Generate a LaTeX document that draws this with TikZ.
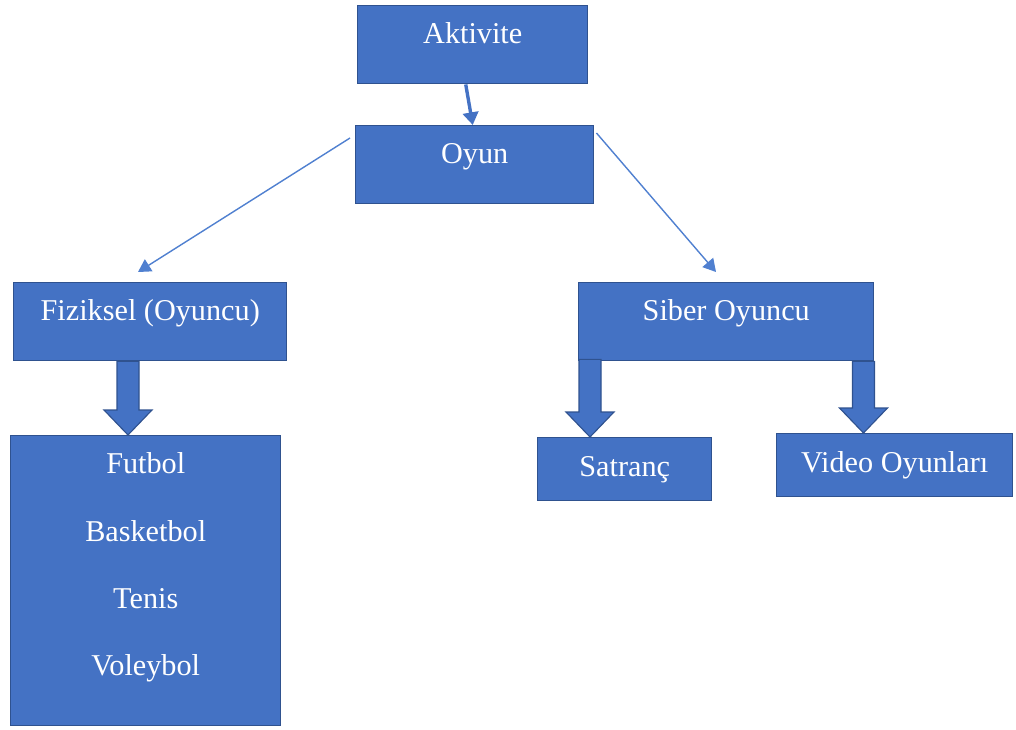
\documentclass[tikz,border=0pt]{standalone}
\usepackage{fontspec}
\setmainfont{Liberation Serif}
\usetikzlibrary{arrows.meta,calc}

\definecolor{boxfill}{HTML}{4472C4}
\definecolor{boxline}{HTML}{2F528F}
\definecolor{arrline}{HTML}{5080D0}

\tikzset{
  box/.style={draw=boxline, line width=1pt, fill=boxfill, text=white,
    inner sep=0pt, anchor=north west, font=\fontsize{21.5}{24}\selectfont},
  tallbox/.style={box, text height=0.95cm, text depth=1.0cm},
  lowbox/.style={box, text height=0.975cm, text depth=0.6cm},
  itemtxt/.style={text=white, font=\fontsize{21.5}{24}\selectfont, anchor=base},
  thinarr/.style={draw=arrline, line width=1pt, -{Triangle[length=9pt,width=10pt]}},
  fatarr/.style={fill=boxfill, draw=boxline, line width=0.8pt}
}

% wide arrow from #1 (top of shaft) down to #2 (tip)
\newcommand{\fatarrow}[2]{%
  \draw[fatarr] ($(#1)+(-11,0)$) -- ($(#1)+(11,0)$) -- ($(#2)+(11,-25)$)
    -- ($(#2)+(24,-25)$) -- (#2) -- ($(#2)+(-24,-25)$)
    -- ($(#2)+(-11,-25)$) -- cycle;}

\begin{document}
\begin{tikzpicture}[x=0.025cm, y=-0.025cm]
\useasboundingbox (0,0) rectangle (1016,729);

% boxes
\node[tallbox, minimum width=5.75cm] (akt) at (357,5) {Aktivite};
\node[tallbox, minimum width=5.95cm] (oyun) at (355,125) {Oyun};
\node[tallbox, minimum width=6.825cm] (fiz) at (13,282) {Fiziksel (Oyuncu)};
\node[tallbox, minimum width=7.375cm] (siber) at (578,282) {Siber Oyuncu};
\node[lowbox, minimum width=4.35cm] (satranc) at (537,437) {Satranç};
\node[lowbox, minimum width=5.9cm] (video) at (776,433) {Video Oyunları};
\node[box, minimum width=6.75cm, minimum height=7.25cm] (list) at (10,435) {};

% sports in the list box
\node[itemtxt] (futbol) at ($(list.north)+(0,38)$) {Futbol};
\node[itemtxt] (basket) at ($(list.north)+(0,106)$) {Basketbol};
\node[itemtxt] (tenis) at ($(list.north)+(0,173)$) {Tenis};
\node[itemtxt] (voley) at ($(list.north)+(0,240)$) {Voleybol};

% arrows
\draw[draw=boxfill, line width=2.4pt, -{Triangle[length=9pt,width=11pt]}]
  ($(akt.south)+(-7,0)$) -- ($(oyun.north)+(-2,0)$);

\coordinate (fizend) at ($(fiz.north west)+(125,-10)$);
\coordinate (sibend) at ($(siber.north west)+(138,-10)$);
\draw[thinarr] ($(oyun.north west)+(-5,13)$) -- (fizend);
\draw[thinarr] ($(oyun.north east)+(2,8)$) -- (sibend);

\coordinate (fiztop) at ($(fiz.south west)+(115,0)$);
\coordinate (sattop) at ($(siber.south west)+(12,-2)$);
\coordinate (vidtop) at ($(siber.south east)+(-11,0)$);
\fatarrow{fiztop}{fiztop |- list.north}
\fatarrow{sattop}{sattop |- satranc.north}
\fatarrow{vidtop}{vidtop |- video.north}
\end{tikzpicture}
\end{document}
